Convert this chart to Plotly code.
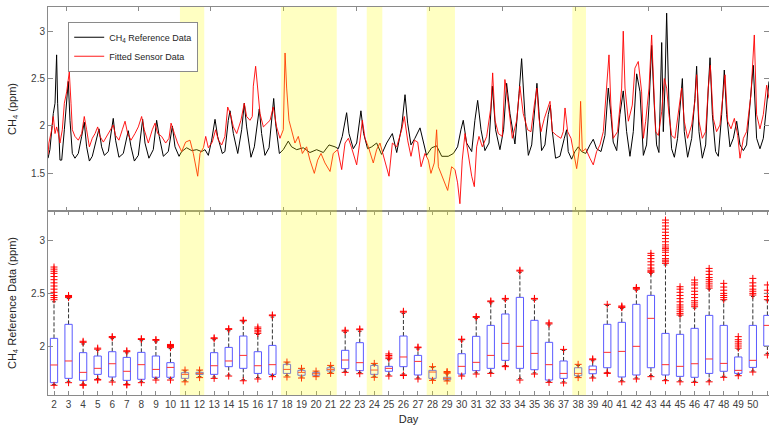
import plotly.graph_objects as go

# ---------------- top panel: time series (day units) ----------------
ref_t = [1.59, 1.72, 1.95, 2.07, 2.18, 2.25, 2.41, 2.53, 2.71, 2.89, 2.98, 3.10, 3.26, 3.44, 3.67, 3.90, 4.08, 4.24, 4.43, 4.63,
         4.93, 5.09, 5.27, 5.46, 5.73, 5.96, 6.07, 6.23, 6.46, 6.76, 6.99, 7.10, 7.29, 7.52, 7.79, 8.02, 8.09, 8.25, 8.52, 8.82,
         9.05, 9.23, 9.51, 9.85, 10.13, 10.31, 10.59, 10.77, 11.11, 11.46, 11.80, 12.14, 12.37, 12.60, 12.83, 13.06, 13.24, 13.56, 13.74, 13.97,
         14.09, 14.32, 14.62, 14.89, 15.07, 15.23, 15.53, 15.76, 15.99, 16.10, 16.26, 16.49, 16.77, 16.95, 17.09, 17.22, 17.48, 17.75, 18.09, 18.32,
         18.67, 19.12, 19.58, 20.04, 20.50, 20.89, 21.30, 21.53, 21.80, 22.10, 22.26, 22.56, 22.79, 23.08, 23.27, 23.54, 23.82, 24.16, 24.50, 24.85,
         25.24, 25.54, 25.88, 26.11, 26.29, 26.52, 26.79, 27.14, 27.37, 27.59, 27.94, 28.28, 28.63, 29.08, 29.43, 29.72, 29.95, 30.11, 30.34, 30.69,
         30.91, 31.10, 31.33, 31.60, 31.88, 32.11, 32.33, 32.63, 32.88, 33.09, 33.32, 33.66, 33.94, 34.12, 34.35, 34.58, 34.81, 35.04, 35.17, 35.31,
         35.49, 35.72, 35.95, 36.09, 36.23, 36.45, 36.75, 37.05, 37.21, 37.32, 37.55, 37.78, 38.01, 38.24, 38.52, 38.81, 39.04, 39.27, 39.57, 39.84,
         40.07, 40.25, 40.41, 40.65, 40.87, 41.10, 41.33, 41.56, 41.79, 42.02, 42.25, 42.48, 42.70, 42.87, 43.05, 43.23, 43.39, 43.55, 43.74, 43.85,
         43.96, 44.08, 44.24, 44.42, 44.61, 44.83, 45.06, 45.16, 45.29, 45.52, 45.80, 46.02, 46.14, 46.30, 46.53, 46.76, 46.94, 47.06, 47.22, 47.44,
         47.63, 47.86, 48.04, 48.20, 48.43, 48.66, 48.89, 49.12, 49.35, 49.57, 49.80, 50.03, 50.26, 50.49, 50.72, 50.95, 51.11]
ref_v = [1.66, 1.75, 2.13, 2.24, 2.75, 2.24, 1.64, 1.64, 1.96, 2.34, 2.47, 2.06, 1.71, 1.66, 1.71, 1.89, 2.04, 1.78, 1.63, 1.68,
         1.85, 1.97, 1.78, 1.69, 1.73, 1.96, 2.08, 1.85, 1.67, 1.71, 1.90, 1.95, 1.78, 1.63, 1.69, 1.96, 2.07, 1.82, 1.66, 1.75,
         2.06, 1.89, 1.68, 1.73, 2.00, 1.78, 1.68, 1.73, 1.77, 1.74, 1.75, 1.73, 1.75, 1.69, 1.85, 2.07, 1.89, 1.71, 1.73, 2.06,
         2.16, 1.92, 1.71, 1.96, 2.24, 1.99, 1.67, 1.78, 2.06, 2.18, 1.92, 1.69, 1.77, 2.06, 2.29, 2.03, 1.71, 1.75, 1.84, 1.78,
         1.75, 1.77, 1.72, 1.75, 1.72, 1.80, 1.78, 1.76, 1.89, 2.14, 1.92, 1.76, 1.82, 2.16, 1.92, 1.76, 1.78, 1.82, 1.70, 1.82,
         1.92, 1.72, 1.99, 2.33, 2.03, 1.80, 1.87, 1.98, 1.82, 1.69, 1.77, 1.79, 1.68, 1.68, 1.71, 1.78, 1.96, 2.06, 1.82, 1.73,
         2.06, 2.27, 1.96, 1.74, 1.82, 2.42, 1.96, 1.75, 1.96, 2.45, 2.13, 1.81, 2.34, 2.71, 2.10, 1.69, 1.80, 2.22, 2.45, 2.15,
         1.74, 1.80, 2.12, 2.22, 1.94, 1.66, 1.68, 1.87, 1.96, 1.73, 1.65, 1.73, 1.78, 1.73, 1.71, 1.80, 1.86, 1.76, 1.73, 1.90,
         2.40, 2.12, 1.83, 1.74, 2.12, 2.37, 1.94, 1.68, 1.94, 2.55, 2.36, 1.69, 1.80, 2.22, 2.85, 2.22, 1.80, 1.72, 2.88, 1.94,
         2.40, 3.19, 2.22, 1.76, 1.67, 1.87, 2.36, 2.50, 1.94, 1.67, 1.87, 2.29, 2.63, 1.94, 1.66, 1.80, 2.40, 2.72, 2.12, 1.73,
         1.68, 2.12, 2.59, 2.12, 1.78, 1.87, 2.05, 1.80, 1.74, 1.80, 2.22, 2.64, 1.87, 1.76, 1.87, 2.22, 2.47]

sensor_t = [1.59, 1.65, 1.84, 1.95, 2.07, 2.18, 2.30, 2.41, 2.57, 2.71, 2.87, 3.05, 3.17, 3.26, 3.44, 3.67, 3.90, 4.08, 4.24, 4.43,
            4.63, 4.82, 5.00, 5.16, 5.39, 5.62, 5.85, 6.07, 6.23, 6.46, 6.69, 6.88, 7.06, 7.29, 7.56, 7.79, 8.02, 8.20, 8.48, 8.75,
            8.94, 9.12, 9.39, 9.67, 9.90, 10.04, 10.27, 10.49, 10.77, 11.04, 11.34, 11.57, 11.87, 12.03, 12.26, 12.42, 12.60, 12.87, 13.10, 13.29,
            13.52, 13.74, 13.93, 14.11, 14.32, 14.55, 14.84, 15.07, 15.23, 15.46, 15.62, 15.69, 15.85, 15.99, 16.15, 16.38, 16.61, 16.84, 17.06, 17.29,
            17.52, 17.75, 17.87, 17.98, 18.14, 18.32, 18.55, 18.78, 19.06, 19.35, 19.58, 19.88, 20.11, 20.34, 20.61, 20.96, 21.18, 21.48, 21.76, 21.99,
            22.22, 22.44, 22.79, 23.02, 23.18, 23.36, 23.59, 23.93, 24.16, 24.39, 24.73, 25.01, 25.24, 25.54, 25.88, 26.06, 26.29, 26.52, 26.75, 26.98,
            27.21, 27.48, 27.71, 27.89, 28.12, 28.28, 28.40, 28.74, 29.04, 29.20, 29.31, 29.54, 29.72, 29.88, 30.04, 30.23, 30.46, 30.69, 30.87, 31.03,
            31.19, 31.42, 31.72, 32.01, 32.13, 32.29, 32.52, 32.79, 32.97, 33.20, 33.48, 33.78, 34.00, 34.23, 34.53, 34.76, 34.99, 35.17, 35.31, 35.45,
            35.68, 35.84, 36.07, 36.23, 36.52, 36.82, 36.98, 37.10, 37.28, 37.51, 37.74, 37.90, 38.06, 38.17, 38.29, 38.52, 38.81, 39.04, 39.27, 39.50,
            39.73, 39.96, 40.12, 40.25, 40.41, 40.71, 40.99, 41.10, 41.22, 41.45, 41.72, 41.90, 42.13, 42.36, 42.48, 42.64, 42.87, 43.05, 43.16, 43.32,
            43.51, 43.74, 43.92, 44.08, 44.24, 44.42, 44.65, 44.88, 45.11, 45.29, 45.52, 45.80, 46.02, 46.14, 46.30, 46.53, 46.76, 46.94, 47.08, 47.28,
            47.51, 47.74, 47.97, 48.09, 48.27, 48.50, 48.73, 48.96, 49.12, 49.35, 49.57, 49.87, 50.10, 50.26, 50.49, 50.72, 50.95, 51.11]
sensor_v = [1.70, 1.82, 1.96, 2.10, 1.92, 1.99, 1.92, 1.82, 1.96, 2.24, 2.36, 2.57, 2.24, 1.96, 1.89, 1.85, 1.92, 2.10, 1.96, 1.78,
            1.87, 1.92, 1.99, 1.89, 1.83, 1.89, 1.96, 2.01, 1.90, 1.85, 1.96, 2.05, 1.92, 1.85, 1.92, 1.99, 2.10, 1.96, 1.82, 1.96,
            2.03, 1.92, 1.89, 1.82, 1.87, 2.03, 1.92, 1.82, 1.73, 1.83, 1.85, 1.71, 1.47, 1.71, 1.77, 1.89, 1.77, 1.83, 1.96, 1.85,
            1.80, 1.89, 2.20, 2.13, 1.99, 1.92, 2.06, 2.24, 2.10, 2.06, 2.10, 2.42, 2.63, 2.38, 2.13, 1.99, 2.03, 2.06, 2.20, 1.99,
            1.87, 1.96, 2.77, 2.40, 2.06, 1.96, 1.82, 1.89, 1.71, 1.78, 1.64, 1.50, 1.64, 1.71, 1.61, 1.52, 1.71, 1.75, 1.54, 1.82,
            1.87, 1.77, 1.59, 1.85, 2.06, 1.87, 1.78, 1.61, 1.75, 1.82, 1.64, 1.47, 1.82, 1.78, 1.96, 2.10, 1.85, 1.68, 1.85, 1.83,
            1.57, 1.71, 1.64, 1.50, 1.61, 1.96, 1.57, 1.43, 1.32, 1.47, 1.57, 1.54, 1.40, 1.18, 1.64, 1.92, 1.71, 1.47, 1.36, 1.78,
            1.89, 1.78, 1.89, 2.20, 2.56, 2.06, 1.92, 1.89, 2.49, 2.24, 1.87, 2.06, 2.42, 2.13, 1.96, 1.94, 2.22, 2.40, 2.08, 1.94,
            2.08, 2.15, 2.26, 1.94, 1.90, 1.87, 1.94, 2.19, 1.94, 1.87, 1.69, 1.55, 1.73, 2.26, 1.73, 1.76, 1.66, 1.59, 1.73, 1.80,
            1.94, 2.43, 2.75, 2.22, 1.87, 1.94, 2.40, 3.00, 2.40, 2.05, 2.22, 2.61, 2.68, 2.36, 1.87, 2.05, 2.40, 2.96, 2.57, 1.94,
            1.90, 2.15, 2.50, 2.40, 2.12, 1.90, 1.87, 2.12, 2.40, 2.05, 1.87, 2.01, 2.26, 2.54, 2.05, 1.87, 1.94, 2.40, 2.64, 2.08,
            1.94, 2.01, 2.40, 2.54, 2.05, 1.97, 2.08, 1.90, 1.66, 1.87, 1.94, 2.33, 2.96, 2.12, 1.97, 2.12, 2.43, 2.29]

top_tick_days = [2.83, 7.83, 12.78, 17.75, 22.8, 27.78, 32.83, 37.85, 42.86, 47.88]

# highlighted periods (day units)
band_start = [10.65, 17.59, 23.48, 27.60, 37.60]
band_end = [12.32, 21.42, 24.55, 29.54, 38.54]

# ---------------- bottom panel: daily box plot statistics ----------------
days = list(range(2, 52))
q1 = [1.652, 1.693, 1.674, 1.731, 1.706, 1.674, 1.684, 1.703, 1.703, 1.693, 1.730, 1.731, 1.804, 1.788, 1.740, 1.731, 1.740,
      1.722, 1.722, 1.763, 1.785, 1.766, 1.731, 1.760, 1.804, 1.725, 1.693, 1.680, 1.734, 1.766, 1.788, 1.864, 1.788, 1.775,
      1.677, 1.693, 1.718, 1.737, 1.794, 1.706, 1.725, 1.794, 1.725, 1.712, 1.703, 1.740, 1.760, 1.740, 1.797, 2.000]
med = [1.820, 1.858, 1.750, 1.788, 1.832, 1.760, 1.823, 1.778, 1.797, 1.731, 1.740, 1.813, 1.858, 1.911, 1.813, 1.823, 1.778,
       1.750, 1.737, 1.778, 1.867, 1.842, 1.772, 1.788, 1.896, 1.854, 1.753, 1.693, 1.807, 1.845, 1.911, 2.025, 1.997, 1.930,
       1.823, 1.740, 1.740, 1.775, 1.940, 1.949, 1.997, 2.263, 1.823, 1.807, 1.832, 1.877, 1.835, 1.769, 1.864, 2.196]
q3 = [2.073, 2.206, 1.937, 1.905, 1.946, 1.892, 1.940, 1.905, 1.842, 1.747, 1.750, 1.937, 1.987, 2.095, 1.946, 2.006, 1.826,
      1.769, 1.747, 1.794, 1.959, 2.032, 1.816, 1.807, 2.095, 1.911, 1.769, 1.703, 1.927, 2.092, 2.196, 2.304, 2.462, 2.244,
      2.035, 1.858, 1.794, 1.810, 2.206, 2.225, 2.396, 2.481, 2.120, 2.111, 2.168, 2.291, 2.196, 1.896, 2.196, 2.291]
whisker_hi = [2.42, 2.45, 2.02, 1.96, 2.07, 1.935, 2.05, 2.04, 1.975, 1.765, 1.765, 2.06, 2.145, 2.23, 2.11, 2.275, 1.84,
              1.78, 1.755, 1.808, 2.13, 2.14, 1.826, 1.87, 2.31, 1.972, 1.795, 1.735, 2.048, 2.26, 2.41, 2.435, 2.70, 2.435,
              2.20, 1.958, 1.815, 1.86, 2.385, 2.355, 2.53, 2.69, 2.77, 2.285, 2.36, 2.54, 2.43, 1.97, 2.47, 2.43]
whisker_lo = [1.635, 1.665, 1.64, 1.69, 1.67, 1.64, 1.665, 1.69, 1.69, 1.67, 1.71, 1.705, 1.725, 1.68, 1.70, 1.72, 1.718,
              1.706, 1.716, 1.75, 1.76, 1.748, 1.713, 1.726, 1.735, 1.697, 1.684, 1.675, 1.725, 1.745, 1.75, 1.815, 1.69, 1.745,
              1.665, 1.66, 1.71, 1.706, 1.75, 1.67, 1.697, 1.72, 1.68, 1.67, 1.665, 1.67, 1.713, 1.728, 1.763, 1.93]
outliers_hi = [
    [2.44, 2.46, 2.48, 2.51, 2.54, 2.57, 2.60, 2.63, 2.66, 2.69, 2.71, 2.73, 2.75],
    [2.46, 2.47, 2.48], [2.035, 2.045], [1.97, 1.98], [2.08, 2.09], [1.946, 1.955], [2.062, 2.07], [2.054, 2.062],
    [1.985, 1.995, 2.005, 2.015], [1.772], [1.772], [2.07, 2.078], [2.158, 2.165], [2.24, 2.245],
    [2.12, 2.135, 2.15, 2.165, 2.18], [2.288, 2.295], [1.848], [1.788], [1.762], [1.816], [2.142, 2.15],
    [2.155, 2.162], [1.835], [1.88, 1.895, 1.91, 1.925], [2.322, 2.33], [1.984, 1.99], [1.804], [1.742, 1.75, 1.758],
    [2.06, 2.065], [2.272, 2.28], [2.421, 2.428], [2.446, 2.452], [2.712, 2.72], [2.446, 2.452], [2.21, 2.22],
    [1.968], [1.826], [1.87, 1.878], [2.396], [2.365, 2.372, 2.38], [2.54, 2.548, 2.556],
    [2.70, 2.71, 2.72, 2.74, 2.77, 2.80, 2.83, 2.86, 2.88],
    [2.785, 2.80, 2.815, 2.83, 2.86, 2.89, 2.91, 2.925, 2.94, 2.96, 2.99, 3.02, 3.05, 3.08, 3.11, 3.14, 3.17, 3.196],
    [2.294, 2.31, 2.33, 2.35, 2.37, 2.39, 2.42, 2.45, 2.48, 2.51, 2.54, 2.563],
    [2.373, 2.39, 2.41, 2.43, 2.46, 2.49, 2.52, 2.55, 2.58, 2.60, 2.627],
    [2.55, 2.57, 2.59, 2.61, 2.63, 2.65, 2.68, 2.71, 2.737],
    [2.44, 2.46, 2.48, 2.50, 2.53, 2.56, 2.595],
    [1.98, 2.00, 2.02, 2.04, 2.06, 2.089],
    [2.484, 2.50, 2.52, 2.54, 2.57, 2.60, 2.642],
    [2.44, 2.47, 2.50, 2.53, 2.58]]
outliers_lo = [[1.627], [1.652], [1.627, 1.632], [1.677, 1.683], [1.658], [1.630, 1.635], [1.652], [1.677], [1.677],
               [1.660], [1.700], [1.693], [1.715], [1.670], [1.687], [1.709], [1.706], [1.696], [1.709], [1.740],
               [1.750], [1.737], [1.703], [1.715], [1.720, 1.725], [1.687], [1.674], [1.668], [1.715], [1.734],
               [1.740], [1.804, 1.810], [1.677], [1.734], [1.655], [1.649], [1.700], [1.696], [1.740, 1.745],
               [1.660], [1.687], [1.709], [1.671], [1.660], [1.655], [1.660], [1.703], [1.718], [1.753], [1.915]]

BOX_HALF = 0.25
CAP_HALF = 0.125

# ---------------- build figure ----------------
fig = go.Figure()

fig.add_trace(go.Scatter(x=ref_t, y=ref_v, mode="lines", name="CH<sub>4</sub> Reference Data",
                         line=dict(color="black", width=1), xaxis="x", yaxis="y"))
fig.add_trace(go.Scatter(x=sensor_t, y=sensor_v, mode="lines", name="Fitted Sensor Data",
                         line=dict(color="red", width=0.9), xaxis="x", yaxis="y"))

wx, wy = [], []
cx, cy = [], []
bx, by = [], []
mx, my = [], []
ox, oy = [], []
for i, d in enumerate(days):
    wx += [d, d, None, d, d, None]
    wy += [q3[i], whisker_hi[i], None, q1[i], whisker_lo[i], None]
    cx += [d - CAP_HALF, d + CAP_HALF, None, d - CAP_HALF, d + CAP_HALF, None]
    cy += [whisker_hi[i], whisker_hi[i], None, whisker_lo[i], whisker_lo[i], None]
    bx += [d - BOX_HALF, d + BOX_HALF, d + BOX_HALF, d - BOX_HALF, d - BOX_HALF, None]
    by += [q1[i], q1[i], q3[i], q3[i], q1[i], None]
    mx += [d - BOX_HALF, d + BOX_HALF, None]
    my += [med[i], med[i], None]
    for v in outliers_hi[i] + outliers_lo[i]:
        ox.append(d)
        oy.append(v)

fig.add_trace(go.Scatter(x=wx, y=wy, mode="lines", line=dict(color="#333333", width=1, dash="4px,2px"),
                         showlegend=False, xaxis="x2", yaxis="y2"))
fig.add_trace(go.Scatter(x=cx, y=cy, mode="lines", line=dict(color="#333333", width=1),
                         showlegend=False, xaxis="x2", yaxis="y2"))
fig.add_trace(go.Scatter(x=bx, y=by, mode="lines", line=dict(color="#5a5aff", width=1),
                         showlegend=False, xaxis="x2", yaxis="y2"))
fig.add_trace(go.Scatter(x=mx, y=my, mode="lines", line=dict(color="#ff3030", width=1),
                         showlegend=False, xaxis="x2", yaxis="y2"))
fig.add_trace(go.Scatter(x=ox, y=oy, mode="markers",
                         marker=dict(symbol="cross-thin", size=5, line=dict(color="red", width=1)),
                         showlegend=False, xaxis="x2", yaxis="y2"))

for s, e in zip(band_start, band_end):
    fig.add_shape(type="rect", xref="x2", yref="paper", x0=s, x1=e, y0=0, y1=1,
                  fillcolor="yellow", opacity=0.24, line=dict(width=0), layer="above")

XR = [1.588, 51.11]
axis_common = dict(showline=True, linecolor="#8a8a8a", linewidth=1, mirror="ticks", ticks="inside",
                   tickcolor="#8a8a8a", showgrid=False, zeroline=False, automargin=False,
                   tickfont=dict(size=10, color="#404040"))
TOP_DOMAIN = [0.4742, 1.0]
BOT_DOMAIN = [0.0, 0.4742]

fig.update_layout(
    width=769, height=433,
    margin=dict(l=48, r=0, t=7, b=38),
    paper_bgcolor="white", plot_bgcolor="white",
    font=dict(family="Liberation Sans, Arial, sans-serif", color="#262626"),
    showlegend=True,
    legend=dict(x=0.028, y=0.962, xanchor="left", yanchor="top", bgcolor="white",
                bordercolor="#8a8a8a", borderwidth=1, font=dict(size=9, color="#262626"),
                tracegroupgap=0),
    xaxis=dict(domain=[0, 1], range=XR, anchor="y", tickvals=top_tick_days, showticklabels=False,
               ticklen=4, **axis_common),
    yaxis=dict(domain=TOP_DOMAIN, range=[1.103, 3.255], anchor="x", tickvals=[1.5, 2, 2.5, 3],
               ticktext=["1.5", "2", "2.5", "3"], ticklen=5,
               title=dict(text="CH<sub>4</sub> (ppm)", font=dict(size=11, color="#262626"), standoff=12),
               **axis_common),
    xaxis2=dict(domain=[0, 1], range=XR, anchor="y2", tickvals=days, ticktext=[str(d) for d in days],
                ticklen=4, title=dict(text="Day", font=dict(size=11, color="#262626"), standoff=6),
                **axis_common),
    yaxis2=dict(domain=BOT_DOMAIN, range=[1.535, 3.282], anchor="x2", tickvals=[2, 2.5, 3],
                ticktext=["2", "2.5", "3"], ticklen=5,
                title=dict(text="CH<sub>4</sub> Reference Data (ppm)", font=dict(size=11, color="#262626"), standoff=12),
                **axis_common),
)

fig.write_html("out.html", config={"displayModeBar": False},
               post_script="document.body.style.margin='0';document.body.style.overflow='hidden';")
